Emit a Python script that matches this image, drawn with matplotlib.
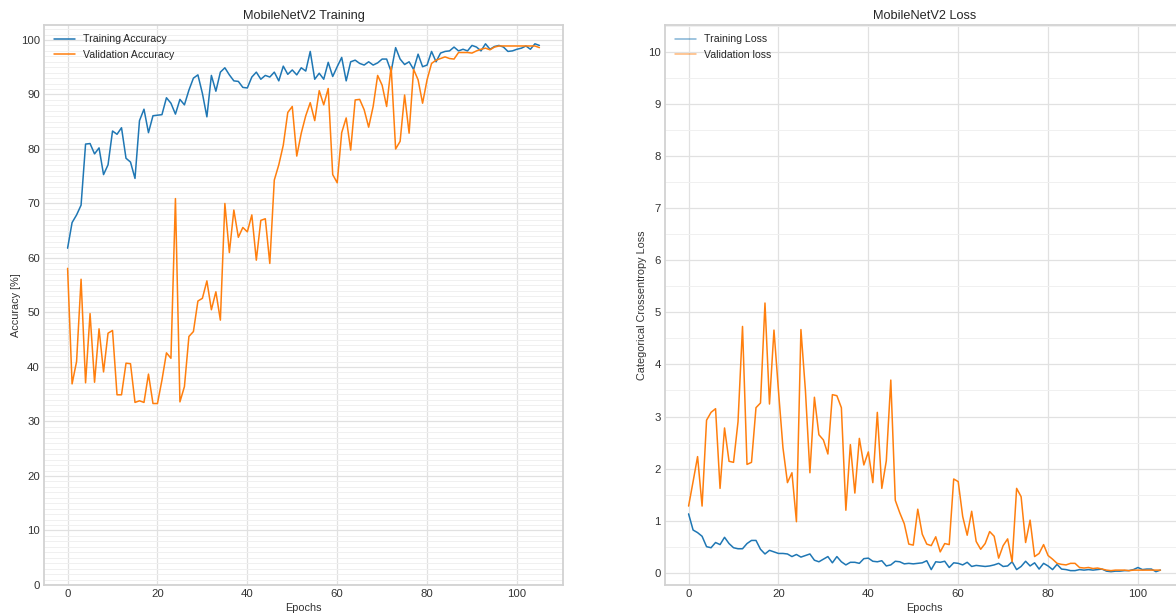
import numpy as np
import matplotlib
matplotlib.use("Agg")
import matplotlib.pyplot as plt
from matplotlib.ticker import MultipleLocator

plt.style.use("seaborn-v0_8-whitegrid")
plt.rcParams["font.family"] = ["Liberation Sans", "DejaVu Sans"]

epochs = list(range(106))

train_acc = [61.8, 66.5, 67.9, 69.7, 80.9, 81.0, 79.1, 80.2, 75.3, 77.1,
             83.3, 82.7, 83.9, 78.3, 77.6, 74.6, 85.2, 87.3, 83.0, 86.1,
             86.2, 86.3, 89.4, 88.4, 86.4, 89.1, 88.1, 90.8, 93.0, 93.6,
             90.2, 85.9, 93.5, 90.6, 94.1, 94.9, 93.6, 92.5, 92.4, 91.3,
             91.2, 93.2, 94.1, 92.8, 93.5, 93.2, 94.1, 92.5, 95.2, 93.7,
             94.5, 93.6, 94.9, 94.3, 97.9, 92.8, 93.9, 92.8, 95.9, 93.3,
             95.1, 96.8, 92.5, 96.0, 96.3, 95.7, 95.4, 96.0, 95.4, 95.8,
             96.5, 96.5, 94.2, 98.6, 96.5, 95.5, 96.0, 94.6, 97.4, 95.1,
             95.4, 97.9, 96.0, 97.6, 97.9, 98.0, 98.7, 98.0, 98.3, 98.0,
             99.0, 98.7, 98.0, 99.3, 98.3, 98.8, 99.0, 98.7, 97.9, 98.0,
             98.3, 98.5, 98.9, 98.3, 99.3, 99.0]

val_acc = [58.1, 36.9, 41.0, 56.1, 37.1, 49.8, 37.2, 47.0, 39.1, 46.2,
           46.7, 34.9, 34.9, 40.7, 40.6, 33.5, 33.8, 33.5, 38.7, 33.3,
           33.3, 37.6, 42.6, 41.6, 70.9, 33.6, 36.4, 45.6, 46.5, 52.1,
           52.6, 55.8, 50.5, 53.8, 48.6, 70.0, 61.0, 68.8, 63.8, 65.6,
           64.8, 67.9, 59.6, 66.9, 67.2, 59.0, 74.3, 77.1, 80.7, 86.7,
           87.8, 78.7, 82.9, 86.1, 88.5, 85.2, 90.7, 88.1, 91.1, 75.3,
           73.8, 83.0, 85.7, 79.8, 89.0, 89.1, 87.2, 84.0, 87.8, 93.5,
           91.7, 87.8, 95.1, 80.0, 81.4, 89.9, 82.9, 94.6, 92.7, 88.4,
           92.7, 95.7, 96.3, 96.6, 96.9, 96.6, 96.5, 97.7, 97.7, 97.7,
           97.6, 98.0, 98.3, 98.5, 98.2, 98.7, 98.9, 98.9, 98.9, 98.9,
           98.9, 98.9, 98.9, 98.9, 98.9, 98.6]

train_loss = [1.13, 0.82, 0.77, 0.70, 0.50, 0.48, 0.58, 0.54, 0.68, 0.56,
              0.48, 0.46, 0.46, 0.56, 0.62, 0.62, 0.45, 0.36, 0.43, 0.40,
              0.37, 0.37, 0.36, 0.31, 0.35, 0.30, 0.33, 0.36, 0.24, 0.21,
              0.26, 0.31, 0.19, 0.31, 0.21, 0.15, 0.20, 0.20, 0.18, 0.27,
              0.28, 0.22, 0.21, 0.23, 0.13, 0.15, 0.22, 0.21, 0.17, 0.18,
              0.17, 0.18, 0.19, 0.23, 0.06, 0.21, 0.20, 0.22, 0.10, 0.19,
              0.18, 0.15, 0.20, 0.12, 0.14, 0.13, 0.12, 0.13, 0.15, 0.18,
              0.12, 0.13, 0.21, 0.06, 0.12, 0.22, 0.13, 0.19, 0.07, 0.18,
              0.13, 0.06, 0.16, 0.07, 0.06, 0.04, 0.04, 0.06, 0.05, 0.06,
              0.05, 0.06, 0.07, 0.03, 0.02, 0.03, 0.03, 0.04, 0.04, 0.06,
              0.10, 0.06, 0.07, 0.07, 0.02, 0.05]

val_loss = [1.28, 1.75, 2.23, 1.28, 2.93, 3.08, 3.15, 1.62, 2.78, 2.14,
            2.12, 2.90, 4.73, 2.08, 2.12, 3.17, 3.26, 5.18, 3.24, 4.66,
            3.50, 2.40, 1.73, 1.92, 0.98, 4.67, 3.50, 1.92, 3.37, 2.65,
            2.55, 2.28, 3.42, 3.40, 3.17, 1.20, 2.46, 1.53, 2.58, 2.07,
            2.32, 1.73, 3.08, 1.62, 2.15, 3.70, 1.39, 1.15, 0.94, 0.55,
            0.53, 1.22, 0.74, 0.55, 0.52, 0.69, 0.40, 0.56, 0.54, 1.80,
            1.75, 1.08, 0.72, 1.18, 0.60, 0.45, 0.56, 0.79, 0.70, 0.28,
            0.52, 0.65, 0.21, 1.62, 1.46, 0.58, 1.01, 0.31, 0.37, 0.54,
            0.33, 0.26, 0.18, 0.16, 0.15, 0.18, 0.18, 0.10, 0.09, 0.10,
            0.08, 0.09, 0.07, 0.05, 0.04, 0.05, 0.05, 0.05, 0.04, 0.05,
            0.05, 0.05, 0.05, 0.05, 0.05, 0.05]

BLUE = "#1f77b4"
ORANGE = "#ff7f0e"

fig = plt.figure(figsize=(11.76, 6.14), dpi=100)
W, H = 1176, 614
ax1 = fig.add_axes([44 / W, 29 / H, 519 / W, 560 / H])
ax2 = fig.add_axes([665 / W, 29 / H, 519 / W, 560 / H])


def style_axes(ax, minor_step):
    ax.yaxis.set_minor_locator(MultipleLocator(minor_step))
    ax.grid(True, which="major", color="#e1e1e1", linewidth=0.9)
    ax.grid(True, which="minor", axis="y", color="#f0f0f0", linewidth=0.7)
    for sp in ax.spines.values():
        sp.set_color("#d2d2d2")
        sp.set_linewidth(1.3)
    ax.tick_params(labelsize=8.2, colors="#333333", pad=3)
    ax.tick_params(which="both", length=0)


# Accuracy panel
ax1.plot(epochs, train_acc, color=BLUE, lw=1.1, label="Training Accuracy")
ax1.plot(epochs, val_acc, color=ORANGE, lw=1.1, label="Validation Accuracy")
ax1.set_xlim(-5.25, 110.25)
ax1.set_ylim(0, 102.75)
ax1.xaxis.set_major_locator(MultipleLocator(20))
ax1.yaxis.set_major_locator(MultipleLocator(10))
style_axes(ax1, 1)
ax1.set_title("MobileNetV2 Training", fontsize=9.2, color="#262626", pad=4)
ax1.set_xlabel("Epochs", fontsize=7.8, color="#333333", labelpad=3)
ax1.set_ylabel("Accuracy [%]", fontsize=7.8, color="#333333", labelpad=0)
ax1.legend(loc="upper left", fontsize=7.6, frameon=False)

# Loss panel
ax2.plot(epochs, train_loss, color=BLUE, lw=1.1, label="Training Loss")
ax2.plot(epochs, val_loss, color=ORANGE, lw=1.1, label="Validation loss")
ax2.set_xlim(-5.25, 110.25)
ax2.set_ylim(-0.236, 10.52)
ax2.xaxis.set_major_locator(MultipleLocator(20))
ax2.yaxis.set_major_locator(MultipleLocator(1))
style_axes(ax2, 0.5)
ax2.set_title("MobileNetV2 Loss", fontsize=9.2, color="#262626", pad=4)
ax2.set_xlabel("Epochs", fontsize=7.8, color="#333333", labelpad=3)
ax2.set_ylabel("Categorical Crossentropy Loss", fontsize=7.8, color="#333333",
               labelpad=0.5)
leg = ax2.legend(loc="upper left", fontsize=7.6, frameon=False)
for h in leg.get_lines():
    h.set_alpha(0.55)

fig.savefig("out.png", dpi=100)
